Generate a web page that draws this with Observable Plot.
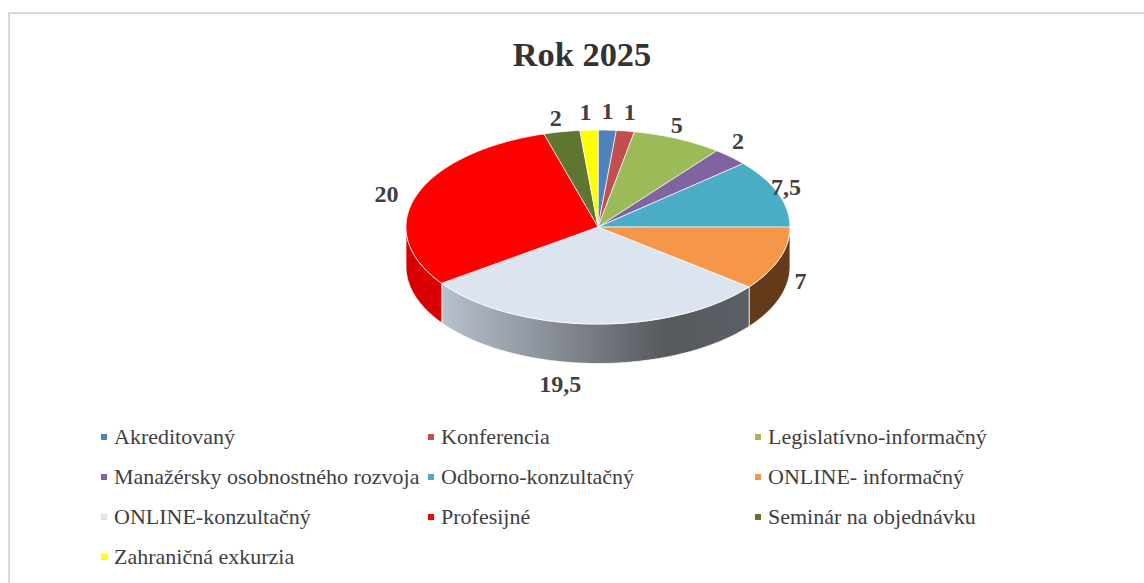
<!DOCTYPE html>
<html lang="sk">
<head>
<meta charset="utf-8">
<script src="https://cdn.jsdelivr.net/npm/d3@7"></script>
<script src="https://cdn.jsdelivr.net/npm/@observablehq/plot@0.6"></script>
<style>
html,body{margin:0;padding:0;background:#fff;width:1144px;height:583px;overflow:hidden}
#frame{position:absolute;left:8px;top:12px;width:1160px;height:600px;border:2px solid #d9d9d9;box-sizing:border-box}
#title{position:absolute;left:0;top:31px;width:1164px;text-align:center;font:bold 34.4px "Liberation Serif",serif;color:#333;line-height:46px}
#chart{position:absolute;left:0;top:90px}
#legend{position:absolute;left:101px;top:417px;display:grid;grid-template-columns:repeat(3,327px);grid-auto-rows:40px;font:22px "Liberation Serif",serif;color:#404040}
#legend div{display:flex;align-items:center;white-space:nowrap}
#legend i{display:inline-block;width:6px;height:6px;margin-right:7px;flex:none}
</style>
</head>
<body>
<div id="frame"></div>
<div id="title"></div>
<div id="chart"></div>
<div id="legend"></div>
<script>
const chartTitle = "Rok 2025";
const categories = ["Akreditovaný","Konferencia","Legislatívno-informačný","Manažérsky osobnostného rozvoja","Odborno-konzultačný","ONLINE- informačný","ONLINE-konzultačný","Profesijné","Seminár na objednávku","Zahraničná exkurzia"];
const values = [1,1,5,2,7.5,7,19.5,20,2,1];
const valueLabels = ["1","1","5","2","7,5","7","19,5","20","2","1"];
const topColors = ["#4f81bd","#c0504d","#9bbb59","#8064a2","#4bacc6","#f59648","#dbe4ef","#ff0000","#5f7530","#ffff00"];
// label nudges from the radial anchor, in pixels
const nudgeX = [0,3,-5,1,-1,12,-33,-21,-4,-3];
const nudgeY = [-1,-1,2,-3,0,17,43,5,4,0];

const total = d3.sum(values);
const cum = d3.cumsum(values);
const rows = categories.map((name,i)=>({name,value:values[i],label:valueLabels[i],
  a0:(i?cum[i-1]:0)/total*2*Math.PI, a1:cum[i]/total*2*Math.PI, i}));
const depth = 39.5/97;             // pie height relative to the vertical radius
const arcPts = (a0,a1,off=0)=>{const n=Math.max(2,Math.ceil((a1-a0)/0.02));
  return d3.range(n+1).map(k=>{const a=a0+(a1-a0)*k/n;return {x:Math.sin(a),y:Math.cos(a)-off};});};

const slices = rows.flatMap(r=>[{x:0,y:0},...arcPts(r.a0,r.a1)].map(p=>({...p,name:r.name})));

const gradId="wallGrad";
const walls = [
  {name:categories[5],fill:"#633a1a"},
  {name:categories[6],fill:`url(#${gradId})`},
  {name:categories[7],fill:"#d80000"}
].map(w=>{
  const r=rows.find(d=>d.name===w.name);
  const a0=Math.max(r.a0,Math.PI/2), a1=Math.min(r.a1,Math.PI*1.5);
  return {...w,pts:[...arcPts(a0,a1),...arcPts(a0,a1,depth).reverse()]};
});
const wallMarks = walls.map(w=>Plot.line(w.pts,{x:"x",y:"y",fill:w.fill,stroke:"#fff",strokeOpacity:0.75,strokeWidth:1,curve:"linear-closed"}));

const defs = ()=>{
  const d=d3.create("svg:defs");
  const g=d.append("linearGradient").attr("id",gradId).attr("x1",0).attr("x2",1).attr("y1",0).attr("y2",0);
  [[0,"#b7c1cd"],[0.5,"#767a81"],[0.73,"#565a5f"],[1,"#5c6066"]].forEach(([o,c])=>g.append("stop").attr("offset",o).attr("stop-color",c));
  return d.node();
};

const labelFont={fontFamily:"Liberation Serif, serif",fontSize:24,fontWeight:"bold",fill:"#404040"};
const labelMarks = rows.map((r,i)=>{
  const m=(r.a0+r.a1)/2;
  return Plot.text([{x:Math.sin(m)*1.05,y:Math.cos(m)*1.18,label:r.label}],{x:"x",y:"y",text:"label",dx:nudgeX[i],dy:nudgeY[i],...labelFont});
});

const plot = Plot.plot({
  width:1144,height:320,
  marginLeft:405.5,marginRight:354.5,marginTop:39.5,marginBottom:86.5,
  x:{domain:[-1,1],axis:null},
  y:{domain:[-1,1],axis:null},
  color:{domain:categories,range:topColors},
  style:{background:"transparent",overflow:"visible"},
  marks:[
    defs,
    ...wallMarks,
    Plot.line(slices,{x:"x",y:"y",z:"name",fill:"name",stroke:"#fff",strokeOpacity:0.75,strokeWidth:1,curve:"linear-closed"}),
    ...labelMarks
  ]
});
document.getElementById("chart").append(plot);
document.getElementById("title").textContent=chartTitle;
const lg=d3.select("#legend");
categories.forEach((c,i)=>{const row=lg.append("div");row.append("i").style("background",topColors[i]);row.append("span").text(c);});
</script>
</body>
</html>
